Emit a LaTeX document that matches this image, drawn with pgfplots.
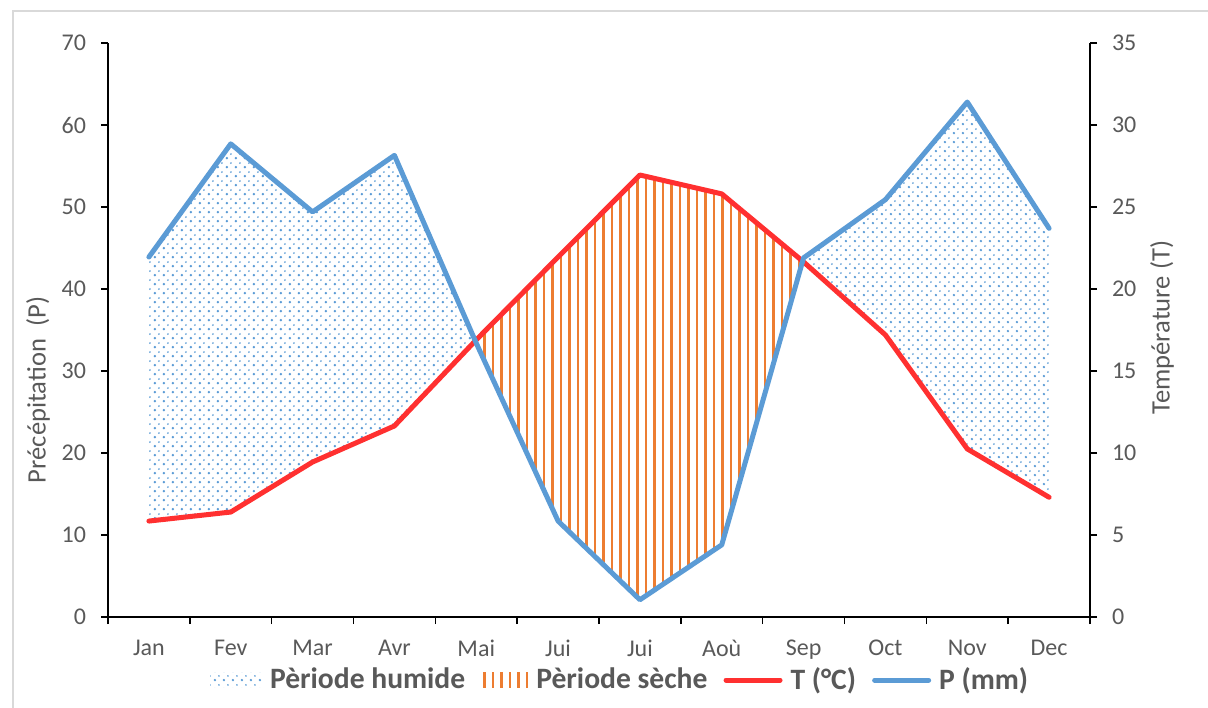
\documentclass[border=0pt]{standalone}
\usepackage{fontspec}
\setmainfont{Carlito}
\usepackage{pgfplots}
\usepackage{pgfplotstable}
\pgfplotsset{compat=1.18}
\usepgfplotslibrary{fillbetween}
\usetikzlibrary{patterns.meta}
\definecolor{pblue}{HTML}{5B9BD5}
\definecolor{tred}{HTML}{FF3030}
\definecolor{dorange}{HTML}{ED7D31}
\definecolor{txtgray}{HTML}{595959}
\definecolor{framegray}{HTML}{D9D9D9}

\tikzdeclarepattern{name=wetdots, type=uncolored,
  bounding box={(0pt,0pt) and (4.25pt,4.25pt)}, tile size={(4.25pt,4.25pt)},
  code={\fill (1pt,1pt) circle (0.68pt); \fill (3.125pt,3.125pt) circle (0.5pt);}}

\pgfplotstableread{
x P T
0 43.9 5.85
1 57.7 6.4
2 49.4 9.45
3 56.3 11.65
4 33.4 16.9
5 11.7 21.95
6 2.1 26.95
7 8.8 25.8
8 43.8 21.65
9 50.9 17.2
10 62.8 10.25
11 47.4 7.3
}\climdata

\begin{document}
\begin{tikzpicture}
\pgfplotsset{
  common/.style={
    at={(0,0)}, anchor=south west, scale only axis,
    width=491pt, height=287pt,
    xmin=-0.5, xmax=11.5,
    tick align=outside, major tick length=3.5pt,
    tick style={black, line width=0.75pt},
    axis line style={black, line width=0.75pt},
    tick label style={font=\fontsize{12}{14}\selectfont, text=txtgray},
    /pgf/number format/assume math mode=true,
  }
}
\begin{axis}[common,
  ymin=0, ymax=70, ytick={0,10,...,70},
  axis x line*=bottom, axis y line*=left,
  xtick={-0.5,0.5,...,11.5}, xticklabels={},
  extra x ticks={0,...,11},
  extra x tick labels={Jan,Fev,Mar,Avr,Mai,Jui,Jui,Aoù,Sep,Oct,Nov,Dec},
  extra x tick style={major tick length=0pt, tick label style={yshift=-8pt}},
  yticklabel style={xshift=-4pt},
  ylabel={Précépitation\ \ (P)},
  every axis y label/.style={at={(axis description cs:-0.0713,0.3955)}, rotate=90, anchor=center,
    font=\fontsize{13.3}{16}\selectfont, text=txtgray},
  legend columns=4,
  legend style={draw=none, fill=none, at={(axis description cs:0.522,-0.1098)}, anchor=center,
    font=\fontsize{14.8}{17}\selectfont\bfseries, text=txtgray,
    nodes={inner xsep=1.5pt},
    /tikz/every odd column/.append style={column sep=2.5pt},
    /tikz/every even column/.append style={column sep=6.5pt}},
]
\addplot[draw=none, name path=P, forget plot] table[x=x, y=P] \climdata;
\addplot[draw=none, name path=T, forget plot] table[x=x, y expr=2*\thisrow{T}] \climdata;
\addplot[forget plot, draw=none] fill between[of=P and T, split,
  every even segment/.style={pattern={wetdots}, pattern color=pblue},
  every odd segment/.style={pattern={Lines[angle=90, distance=4.25pt, line width=1.25pt]}, pattern color=dorange}];
\addplot[forget plot, tred, line width=2.5pt, line join=round, line cap=round] table[x=x, y expr=2*\thisrow{T}] \climdata;
\addplot[forget plot, pblue, line width=2.5pt, line join=round, line cap=round] table[x=x, y=P] \climdata;

\addlegendimage{draw=none, legend image code/.code={\path[draw=none, pattern={wetdots}, pattern color=pblue] (0pt,-3.75pt) rectangle (26pt,3.75pt);}}
\addlegendentry{Pèriode humide}
\addlegendimage{draw=none, legend image code/.code={\path[draw=none, pattern={Lines[angle=90, distance=4.25pt, line width=1.25pt]}, pattern color=dorange] (0pt,-3.75pt) rectangle (23.5pt,3.75pt);}}
\addlegendentry{Pèriode sèche}
\addlegendimage{legend image code/.code={\draw[tred, line width=2.5pt, line cap=round] (0pt,0pt) -- (27pt,0pt);}}
\addlegendentry{T (°C)}
\addlegendimage{legend image code/.code={\draw[pblue, line width=2.5pt, line cap=round] (0pt,0pt) -- (27pt,0pt);}}
\addlegendentry{P (mm)}
\end{axis}
\begin{axis}[common,
  ymin=0, ymax=35, ytick={0,5,...,35},
  axis y line*=right, axis x line=none,
  yticklabel style={xshift=4pt},
  ylabel={Température (T)},
  every axis y label/.style={at={(axis description cs:1.0733,0.504)}, rotate=90, anchor=center,
    font=\fontsize{13.3}{16}\selectfont, text=txtgray},
]
\addplot[draw=none] coordinates {(0,0)};
\end{axis}
\draw[framegray, line width=0.75pt] (-47.5pt,-46pt) -- (-47.5pt,303pt) -- (551pt,303pt);
\pgfresetboundingbox
\path[use as bounding box] (-54pt,-45pt) rectangle (550pt,308.5pt);
\end{tikzpicture}
\end{document}
